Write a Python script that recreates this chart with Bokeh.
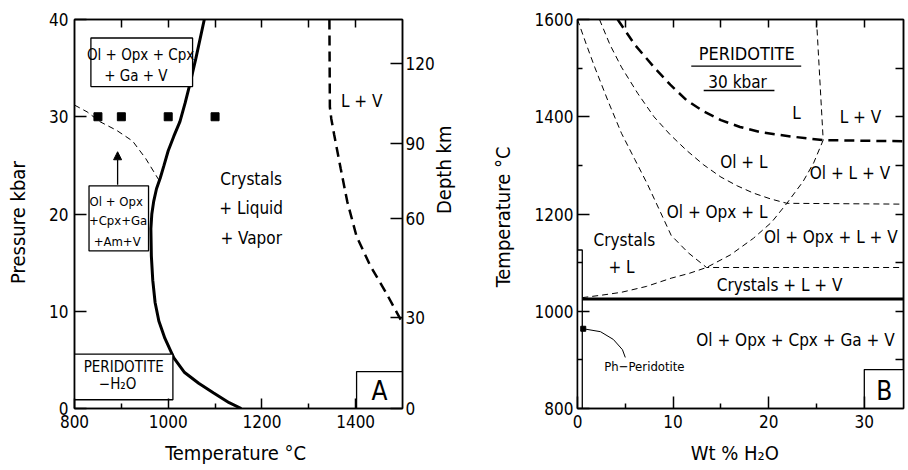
import math
from bokeh.plotting import figure
from bokeh.layouts import row
from bokeh.models import (Range1d, LinearAxis, FixedTicker, Arrow, NormalHead, CustomLabelingPolicy)
from bokeh.core.properties import value
from bokeh.embed import file_html
from bokeh.resources import INLINE

FONT = "DejaVu Sans Condensed"

# ---------------- Panel A data (Temperature degC vs Pressure kbar) ----------------
solidus_T = [1156, 1130, 1097, 1065, 1035, 1012, 993, 980, 972, 967, 964, 963, 965, 969, 975, 983, 991,
             1000, 1012, 1025, 1036, 1046, 1059, 1068, 1077]
solidus_P = [0, 0.6, 1.6, 2.6, 3.7, 5.2, 7.2, 9.0, 10.9, 13.2, 15.7, 18.5, 20.0, 21.3, 22.6, 23.7, 25.0,
             26.5, 28.0, 29.5, 31.4, 33.3, 36, 38, 40]
amph_T = [800, 827, 854, 890, 924, 952, 980]
amph_P = [31.2, 30.5, 29.5, 28.6, 27.5, 25.7, 23.5]
liqv_T = [1344, 1345, 1348, 1354, 1368, 1382, 1402, 1431, 1465, 1500]
liqv_P = [40, 31, 29.8, 28.2, 24.7, 21.3, 17.7, 14.7, 11.9, 8.8]
exp_T = [850, 900, 1000, 1100]
exp_P = [30, 30, 30, 30]
depth_pos = [0, 9.4, 19.5, 27.2, 35.5]
depth_lbl = ["0", "30", "60", "90", "120"]
arrow_T = [892, 892]
arrow_P = [23.0, 26.4]

boxA_left = [835, 831, 800, 1402]
boxA_right = [1052, 958, 1010, 1500]
boxA_bottom = [33.1, 16.2, 0.9, 0.0]
boxA_top = [38.1, 22.9, 5.6, 3.8]

txtA = ["Ol + Opx + Cpx", "+ Ga + V", "Ol + Opx", "+Cpx+Ga", "+Am+V", "PERIDOTITE", "\u2212H\u2082O",
        "Crystals", "+ Liquid", "+ Vapor", "L + V"]
txtA_T = [941, 931, 889, 893, 891, 905, 892, 1177, 1177, 1177, 1413]
txtA_P = [36.4, 34.2, 21.3, 19.3, 17.2, 4.3, 2.5, 23.6, 20.6, 17.5, 31.6]
txtA_size = ["15px", "15px", "13px", "13px", "13px", "15px", "15px", "17px", "17px", "17px", "17px"]

# ---------------- Panel B data (Wt% H2O vs Temperature degC) ----------------
liq_W = [4.2, 6.0, 8.0, 9.7, 11.4, 13.2, 15.0, 17.0, 19.2, 22.5, 25.7, 36]
liq_T = [1600, 1548, 1502, 1466, 1434, 1411, 1393, 1379, 1368, 1359, 1352, 1349]
vert_W = [25.0, 25.7]
vert_T = [1600, 1352]
ol_W = [2.3, 3.4, 4.6, 6.3, 8.0, 9.7, 11.4, 13.2, 15.0, 16.7, 18.4, 20.2, 21.9, 36]
ol_T = [1600, 1548, 1502, 1448, 1400, 1363, 1331, 1301, 1276, 1258, 1243, 1231, 1222, 1220]
opx_W = [0, 0.9, 1.8, 3.2, 4.6, 6.0, 7.3, 8.6, 9.8, 11.6, 13.5, 36]
opx_T = [1600, 1550, 1502, 1432, 1366, 1312, 1262, 1207, 1156, 1120, 1090, 1090]
vap_W = [0.5, 2.5, 4.6, 7.2, 9.8, 11.7, 13.5, 16.0, 18.4, 20.3, 21.9, 23.6, 24.7, 25.7]
vap_T = [1028, 1033, 1039, 1051, 1068, 1078, 1090, 1116, 1150, 1183, 1222, 1267, 1305, 1352]
sol_W = [0.5, 36]
sol_T = [1025, 1025]
ph_W = [0.6]
ph_T = [964]
lead_W = [0.6, 2.4, 3.75, 4.7, 5.0]
lead_T = [964, 958, 942, 921, 905]
ul_W0 = [11.9, 13.2]
ul_W1 = [23.4, 20.6]
ul_T = [1504, 1454]

boxB_left = [-0.2, 30.0]
boxB_right = [0.5, 36.0]
boxB_bottom = [800, 800]
boxB_top = [1126, 880]

txtB = ["PERIDOTITE", "30  kbar", "L", "L + V", "Ol + L", "Ol + L + V", "Ol + Opx + L",
        "Ol + Opx + L + V", "Crystals", "+ L", "Crystals  + L + V", "Ol + Opx + Cpx + Ga + V"]
txtB_W = [17.7, 17.0, 22.9, 29.6, 17.4, 28.5, 14.6, 26.5, 4.9, 4.6, 21.4, 22.8]
txtB_T = [1530, 1472, 1407, 1400, 1307, 1284, 1204, 1153, 1147, 1092, 1054, 941]
txtB_size = ["18px", "17px", "17px", "17px", "17px", "17px", "17px", "17px", "17px", "17px", "17px", "17px"]

NO_LABELS = CustomLabelingPolicy(code="return []")


def style_axis(ax, tick_in, minor_in=0, size="17px"):
    ax.major_tick_in = tick_in
    ax.major_tick_out = 0
    ax.minor_tick_in = minor_in
    ax.minor_tick_out = 0
    ax.axis_line_color = "black"
    ax.axis_line_width = 1.5
    ax.major_tick_line_width = 1.5
    ax.minor_tick_line_width = 1.5
    ax.major_label_text_font = FONT
    ax.major_label_text_font_size = size
    ax.major_label_text_color = "black"
    ax.axis_label_text_font = FONT
    ax.axis_label_text_font_size = "20px"
    ax.axis_label_text_font_style = "normal"
    ax.axis_label_text_color = "black"


def tick_only_axis(ticks, tick_in):
    ax = LinearAxis(ticker=FixedTicker(ticks=ticks), major_label_policy=NO_LABELS)
    style_axis(ax, tick_in, size="1px")
    ax.major_label_standoff = 0
    return ax


# ================= Panel A =================
p1 = figure(width=470, height=470, x_range=Range1d(800, 1500), y_range=Range1d(0, 40),
            output_backend="svg", toolbar_location=None,
            min_border_left=74, min_border_right=60, min_border_top=18, min_border_bottom=62)
p1.xgrid.visible = False
p1.ygrid.visible = False
p1.outline_line_color = "black"
p1.outline_line_width = 1.5

xa = p1.xaxis[0]
xa.ticker = FixedTicker(ticks=[800, 1000, 1200, 1400], minor_ticks=[900, 1100, 1300])
style_axis(xa, 10, 5)
xa.major_label_standoff = 6
xa.axis_label = "Temperature  \u00b0C"
xa.axis_label_standoff = 10

ya = p1.yaxis[0]
ya.ticker = FixedTicker(ticks=[0, 10, 20, 30, 40])
style_axis(ya, 12)
ya.major_label_standoff = 6
ya.axis_label = "Pressure    kbar"
ya.axis_label_standoff = 16

p1.add_layout(tick_only_axis([900, 1000, 1100, 1200, 1300, 1400], 8), "above")

r1 = LinearAxis(ticker=FixedTicker(ticks=depth_pos),
                major_label_overrides={pos: lbl for pos, lbl in zip(depth_pos, depth_lbl)})
style_axis(r1, 12)
r1.major_label_standoff = 3
r1.axis_label = "Depth  km"
r1.axis_label_standoff = 6
try:
    r1.axis_label_orientation = math.pi / 2
except Exception:
    pass
p1.add_layout(r1, "right")

p1.line(solidus_T, solidus_P, line_color="black", line_width=3)
p1.line(amph_T, amph_P, line_color="black", line_width=1, line_dash="6 4")
p1.line(liqv_T, liqv_P, line_color="black", line_width=2.5, line_dash="10 6")
p1.scatter(exp_T, exp_P, marker="square", size=8, color="black")
p1.quad(left=boxA_left, right=boxA_right, bottom=boxA_bottom, top=boxA_top,
        fill_color="white", fill_alpha=1, line_color="black", line_width=1.3)
p1.text(txtA_T, txtA_P, text=txtA, text_font=value(FONT), text_font_size=txtA_size,
        text_align="center", text_baseline="middle", text_color="black")
p1.text([1451], [1.8], text=["A"], text_font=value(FONT), text_font_size="26px",
        text_align="center", text_baseline="middle", text_color="black")
p1.add_layout(Arrow(end=NormalHead(size=8, fill_color="black", line_color="black"),
                    x_start=arrow_T[0], y_start=arrow_P[0], x_end=arrow_T[1], y_end=arrow_P[1],
                    line_width=1.3, line_color="black"))

# ================= Panel B =================
XEND = 34.1
p2 = figure(width=438, height=470, x_range=Range1d(0, XEND), y_range=Range1d(800, 1600),
            output_backend="svg", toolbar_location=None,
            min_border_left=107, min_border_right=0, min_border_top=19, min_border_bottom=61)
p2.xgrid.visible = False
p2.ygrid.visible = False
p2.outline_line_color = "black"
p2.outline_line_width = 1.5

xb = p2.xaxis[0]
xb.ticker = FixedTicker(ticks=[0, 10, 20, 30], minor_ticks=[5, 15, 25])
style_axis(xb, 12, 5)
xb.major_label_standoff = 6
xb.axis_label = "Wt  %  H\u2082O"
xb.axis_label_standoff = 10

yb = p2.yaxis[0]
yb.ticker = FixedTicker(ticks=[800, 1000, 1200, 1400, 1600], minor_ticks=[900, 1100, 1300, 1500])
style_axis(yb, 12, 5)
yb.major_label_standoff = 4
yb.axis_label = "Temperature  \u00b0C"
yb.axis_label_standoff = 17

p2.add_layout(tick_only_axis([5, 10, 15, 20, 25, 30], 8), "above")
p2.add_layout(tick_only_axis([900, 1000, 1100, 1200, 1300, 1400, 1500], 8), "right")

p2.line(liq_W, liq_T, line_color="black", line_width=2.5, line_dash="10 6")
p2.line(vert_W, vert_T, line_color="black", line_width=1, line_dash="6 4")
p2.line(ol_W, ol_T, line_color="black", line_width=1, line_dash="6 4")
p2.line(opx_W, opx_T, line_color="black", line_width=1, line_dash="6 4")
p2.line(vap_W, vap_T, line_color="black", line_width=1, line_dash="6 4")
p2.line(sol_W, sol_T, line_color="black", line_width=3)
p2.quad(left=boxB_left, right=boxB_right, bottom=boxB_bottom, top=boxB_top,
        fill_color="white", fill_alpha=1, line_color="black", line_width=1.3)
p2.line(lead_W, lead_T, line_color="black", line_width=1)
p2.scatter(ph_W, ph_T, marker="square", size=5, color="black")
p2.segment(x0=ul_W0, y0=ul_T, x1=ul_W1, y1=ul_T, line_color="black", line_width=1.3)
p2.text(txtB_W, txtB_T, text=txtB, text_font=value(FONT), text_font_size=txtB_size,
        text_align="center", text_baseline="middle", text_color="black")
p2.text([2.8], [886], text=["Ph\u2212Peridotite"], text_font=value(FONT), text_font_size="13px",
        text_align="left", text_baseline="middle", text_color="black")
p2.text([32.1], [836], text=["B"], text_font=value(FONT), text_font_size="26px",
        text_align="center", text_baseline="middle", text_color="black")

layout = row(p1, p2)
open("out.html", "w").write(file_html(layout, INLINE))
